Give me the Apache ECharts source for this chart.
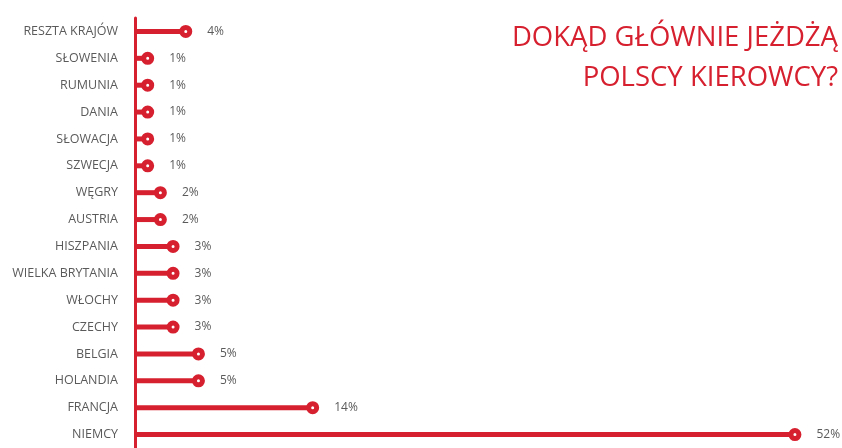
<!DOCTYPE html>
<html>
<head>
<meta charset="utf-8">
<script src="https://cdn.jsdelivr.net/npm/echarts@6/dist/echarts.min.js"></script>
<style>
  html, body { margin: 0; padding: 0; background: #fff; }
  #chart { width: 842px; height: 448px; }
</style>
</head>
<body>
<div id="chart"></div>
<script>
// Destinations of Polish drivers, top to bottom
const countries = [
  'RESZTA KRAJÓW', 'SŁOWENIA', 'RUMUNIA', 'DANIA', 'SŁOWACJA', 'SZWECJA',
  'WĘGRY', 'AUSTRIA', 'HISZPANIA', 'WIELKA BRYTANIA', 'WŁOCHY', 'CZECHY',
  'BELGIA', 'HOLANDIA', 'FRANCJA', 'NIEMCY'
];
// Share of drivers, percent
const shares = [4, 1, 1, 1, 1, 1, 2, 2, 3, 3, 3, 3, 5, 5, 14, 52];

const titleLines = ['DOKĄD GŁÓWNIE JEŻDŻĄ', 'POLSCY KIEROWCY?'];

const RED = '#d7202f';
const GREY = '#5a5a5a';
const FONT = '"Open Sans", "Noto Sans", sans-serif';

// each title line is right-aligned on its own
const titles = titleLines.map((line, i) => ({
  text: line,
  right: 4,
  top: 24 + i * 40,
  padding: 0,
  textStyle: {
    color: RED,
    fontFamily: FONT,
    fontWeight: 'normal',
    fontSize: 27.5
  }
}));

const chart = echarts.init(document.getElementById('chart'));
chart.setOption({
  animation: false,
  backgroundColor: '#ffffff',
  title: titles,
  grid: { left: 135, right: 9, top: 18, bottom: 0 },
  xAxis: {
    type: 'value',
    min: 0,
    max: 55,
    show: false
  },
  yAxis: {
    type: 'category',
    data: countries,
    inverse: true,
    axisLine: { show: true, lineStyle: { color: RED, width: 3 } },
    axisTick: { show: false },
    axisLabel: {
      color: GREY,
      fontFamily: FONT,
      fontSize: 12.5,
      margin: 17
    },
    splitLine: { show: false }
  },
  series: [
    {
      type: 'bar',
      data: shares,
      barWidth: 5,
      itemStyle: { color: RED },
      silent: true
    },
    {
      type: 'scatter',
      data: countries.map((c, i) => [shares[i], c]),
      symbol: 'circle',
      symbolSize: 8,
      itemStyle: { color: '#ffffff', borderColor: RED, borderWidth: 5, opacity: 1 },
      label: {
        show: true,
        position: 'right',
        distance: 15,
        color: GREY,
        fontFamily: FONT,
        fontSize: 12,
        formatter: p => p.value[0] + '%'
      },
      z: 3
    }
  ]
});
</script>
</body>
</html>
